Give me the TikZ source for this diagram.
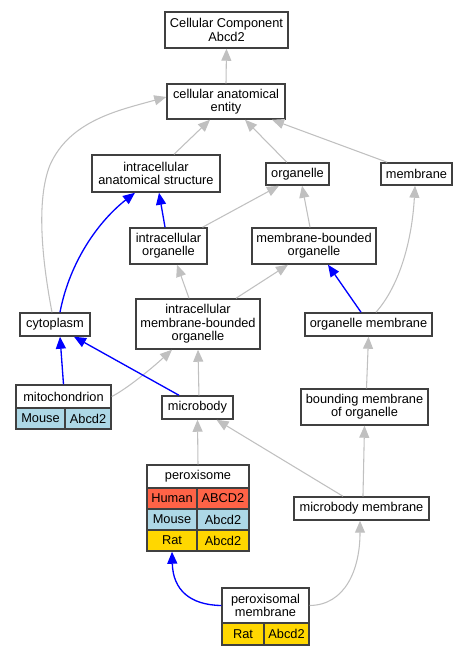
\documentclass[tikz,border=0pt]{standalone}
\usepackage{fontspec}
\setmainfont{Liberation Sans}
\usetikzlibrary{arrows.meta}

\definecolor{human}{RGB}{255,99,71}
\definecolor{mouse}{RGB}{173,216,230}
\definecolor{rat}{RGB}{255,215,0}

\tikzset{
  term/.style={draw={rgb,255:red,64;green,64;blue,64}, line width=1.1pt, fill=white,
    inner sep=0pt, align=center, font=\fontsize{9.6}{10}\selectfont},
  boxsize/.style 2 args={minimum width=#1*0.75pt, minimum height=#2*0.75pt},
  isa/.style={color={rgb,255:red,192;green,192;blue,192}, line width=0.8pt,
    -{Triangle[length=9pt,width=7.5pt]}},
  partof/.style={color={rgb,255:red,0;green,0;blue,255}, line width=1pt,
    -{Triangle[length=9pt,width=7.5pt]}},
}

\begin{document}
\begin{tikzpicture}[x=0.75pt,y=0.75pt,yscale=-1,xscale=1]
\useasboundingbox (0,0) rectangle (467,656);

% Terms
\node[term, boxsize={123}{36}] (cc) at (226.5,30) {Cellular Component\\Abcd2};
\node[term, boxsize={118}{35}] (cae) at (226,101.5) {cellular anatomical\\entity};
\node[term, boxsize={128}{37}] (ias) at (156,173.5) {intracellular\\anatomical structure};
\node[term, boxsize={63}{22}] (organelle) at (297.5,174) {organelle};
\node[term, boxsize={71}{22}] (membrane) at (416.5,174) {membrane};
\node[term, boxsize={77}{36}] (io) at (168.5,246) {intracellular\\organelle};
\node[term, boxsize={124}{36}] (mbo) at (314,246) {membrane-bounded\\organelle};
\node[term, boxsize={124}{50}] (imbo) at (198,324) {intracellular\\membrane-bounded\\organelle};
\node[term, boxsize={70}{23}] (cytoplasm) at (55,324.5) {cytoplasm};
\node[term, boxsize={127}{23}] (om) at (368.5,324.5) {organelle membrane};
\node[term, boxsize={71}{23}] (microbody) at (197.5,407.5) {microbody};
\node[term, boxsize={127}{36}] (bmo) at (364.5,407) {bounding membrane\\of organelle};
\node[term, boxsize={135}{23}] (mm) at (361.5,508.5) {microbody membrane};

% Table: mitochondrion
\node[term, boxsize={95}{23}] (mito) at (63.5,396.5) {mitochondrion};
\node[term, boxsize={49}{21}, fill=mouse] (mitoMouse) at (40.5,418.5) {Mouse};
\node[term, boxsize={46}{21}, fill=mouse] (mitoMouseGene) at (88,418.5) {Abcd2};

% Table: peroxisome
\node[term, boxsize={102}{23}] (perox) at (198,476.5) {peroxisome};
\node[term, boxsize={50}{21}, fill=human] (peroxHuman) at (172,498.5) {Human};
\node[term, boxsize={52}{21}, fill=human] (peroxHumanGene) at (223,498.5) {ABCD2};
\node[term, boxsize={50}{21}, fill=mouse] (peroxMouse) at (172,519.5) {Mouse};
\node[term, boxsize={52}{21}, fill=mouse] (peroxMouseGene) at (223,519.5) {Abcd2};
\node[term, boxsize={50}{21}, fill=rat] (peroxRat) at (172,540.5) {Rat};
\node[term, boxsize={52}{21}, fill=rat] (peroxRatGene) at (223,540.5) {Abcd2};

% Table: peroxisomal membrane
\node[term, boxsize={87}{35}] (pm) at (265.5,605.5) {peroxisomal\\membrane};
\node[term, boxsize={42}{22}, fill=rat] (pmRat) at (243,634) {Rat};
\node[term, boxsize={45}{22}, fill=rat] (pmRatGene) at (286.5,634) {Abcd2};

% Edges
\draw[isa] (cae.north) -- (cc.south);
\draw[isa] ([xshift=13.5pt]ias.north) -- ([xshift=-12pt]cae.south);
\draw[isa] ([xshift=-8pt]organelle.north) -- ([xshift=14.25pt]cae.south);
\draw[isa] ([xshift=-22pt]membrane.north) -- ([xshift=34.5pt]cae.south);
\draw[isa] ([xshift=-2.25pt]cytoplasm.north) .. controls (42,260) and (36,200) .. (50,165)
  .. controls (70,120) and (120,110) .. ([yshift=-3.4pt]cae.west);
\draw[partof] ([xshift=3.75pt]cytoplasm.north) .. controls (70,260) and (100,220) .. ([xshift=-15.75pt]ias.south);
\draw[partof] ([xshift=-2.6pt]io.north) -- ([xshift=2.25pt]ias.south);
\draw[isa] ([xshift=25.5pt]io.north) -- ([xshift=-13.9pt]organelle.south);
\draw[isa] ([xshift=-3pt]mbo.north) -- ([xshift=3.4pt]organelle.south);
\draw[isa] ([xshift=-6.75pt]imbo.north) -- ([xshift=6.4pt]io.south);
\draw[isa] ([xshift=28.5pt]imbo.north) -- ([xshift=-19.5pt]mbo.south);
\draw[partof] ([xshift=-5.6pt]om.north) -- ([xshift=10.5pt]mbo.south);
\draw[isa] ([xshift=5.6pt]om.north) .. controls (400,285) and (412,240) .. ([xshift=-1.1pt]membrane.south);
\draw[partof] (mito.north) -- ([xshift=3.75pt]cytoplasm.south);
\draw[isa] (mito.east) .. controls (125,390) and (150,370) .. ([xshift=-19.5pt]imbo.south);
\draw[partof] ([xshift=-13.9pt]microbody.north) -- ([xshift=14.25pt]cytoplasm.south);
\draw[isa] ([xshift=1.1pt]microbody.north) -- (imbo.south);
\draw[isa] ([xshift=1.5pt]bmo.north) -- (om.south);
\draw[isa] (perox.north) -- (microbody.south);
\draw[isa] ([xshift=-13.9pt]mm.north) -- ([xshift=14.25pt]microbody.south);
\draw[isa] ([xshift=1.1pt]mm.north) -- (bmo.south);
\draw[partof] (pm.west) .. controls (190,605) and (173,590) .. (peroxRat.south);
\draw[isa] (pm.east) .. controls (345,605) and (360,570) .. ([xshift=-1.1pt]mm.south);

\end{tikzpicture}
\end{document}
